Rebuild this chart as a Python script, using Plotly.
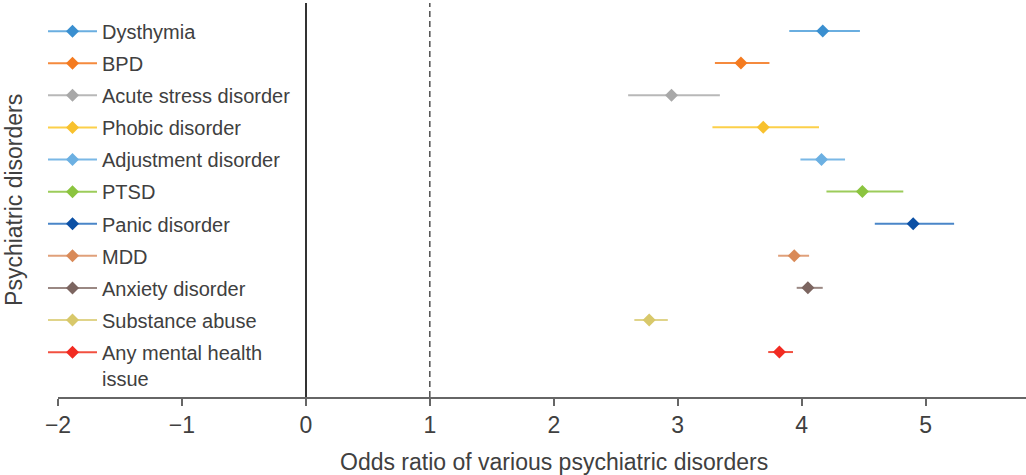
import plotly.graph_objects as go

disorders = ["Dysthymia", "BPD", "Acute stress disorder", "Phobic disorder",
             "Adjustment disorder", "PTSD", "Panic disorder", "MDD",
             "Anxiety disorder", "Substance abuse", "Any mental health<br>issue"]
odds_ratio = [4.17, 3.51, 2.95, 3.69, 4.16, 4.49, 4.90, 3.94, 4.05, 2.77, 3.82]
ci_low = [3.90, 3.30, 2.60, 3.28, 3.99, 4.20, 4.59, 3.81, 3.96, 2.65, 3.73]
ci_high = [4.47, 3.74, 3.34, 4.14, 4.35, 4.82, 5.23, 4.06, 4.17, 2.92, 3.93]
x_ticks = [-2, -1, 0, 1, 2, 3, 4, 5]

marker_colors = ["#3a8fd0", "#f47b20", "#a8a8a8", "#f8c12e", "#6cb0e2", "#8bc43f",
                 "#0c50a5", "#d98a58", "#7c6560", "#d8c86a", "#f22b22"]
line_colors = ["#6aaee0", "#f58a3d", "#b8b8b8", "#fcd04a", "#7ab8e6", "#9ccc5a",
               "#4a86c8", "#e0a07a", "#9a8883", "#e0d48a", "#f25040"]

FONT = "Liberation Sans, Arial, sans-serif"
TXT = "#404040"

fig = go.Figure()
for i, name in enumerate(disorders):
    fig.add_trace(go.Scatter(
        x=[odds_ratio[i]], y=[name], name=name, legendgroup=name,
        mode="lines+markers",
        line=dict(color=line_colors[i], width=2),
        marker=dict(symbol="diamond", size=10, color=marker_colors[i]),
        error_x=dict(type="data", symmetric=False,
                     array=[ci_high[i] - odds_ratio[i]],
                     arrayminus=[odds_ratio[i] - ci_low[i]],
                     color=line_colors[i], thickness=2, width=0),
    ))

fig.add_shape(type="line", xref="x", yref="paper", x0=1, x1=1, y0=0, y1=1,
              line=dict(color="#333333", width=1.3, dash="6px,4px"))

fig.update_layout(
    width=1026, height=475,
    margin=dict(l=58, r=0, t=3, b=78),
    paper_bgcolor="white", plot_bgcolor="white",
    font=dict(family=FONT, color=TXT),
    showlegend=True,
    legend=dict(x=-0.0155, y=0.978, xanchor="left", yanchor="top",
                font=dict(size=20, color=TXT, family=FONT),
                itemwidth=49, traceorder="grouped", tracegroupgap=3.1,
                valign="top", bgcolor="rgba(0,0,0,0)"),
    xaxis=dict(range=[-2, 5.81], tickvals=x_ticks, ticks="outside", ticklen=7,
               tickwidth=1.5, tickcolor="#666666", showline=True,
               linecolor="#666666", linewidth=1.5, showgrid=False,
               zeroline=True, zerolinecolor="#333333", zerolinewidth=1.5,
               tickfont=dict(size=23, color=TXT, family=FONT)),
    yaxis=dict(type="category", categoryorder="array", categoryarray=disorders,
               range=[11.40, -0.872], showticklabels=False, ticks="",
               showgrid=False, zeroline=False, showline=False),
    annotations=[
        dict(text="Odds ratio of various psychiatric disorders", xref="paper",
             yref="paper", x=0.5124, y=-0.165, xanchor="center", yanchor="middle",
             showarrow=False, font=dict(size=23, color=TXT, family=FONT)),
        dict(text="Psychiatric disorders", xref="paper", yref="paper",
             x=-0.0455, y=0.5, xanchor="center", yanchor="middle", textangle=-90,
             showarrow=False, font=dict(size=23, color=TXT, family=FONT)),
    ],
)

fig.write_html("out.html")
